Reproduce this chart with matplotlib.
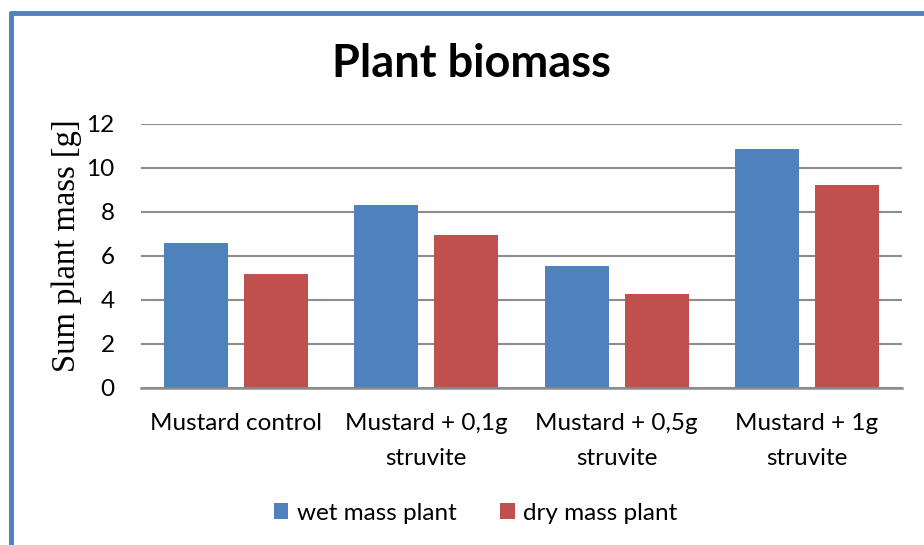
import matplotlib
matplotlib.use("Agg")
import matplotlib.pyplot as plt
from matplotlib.lines import Line2D
import numpy as np

categories = ["Mustard control", "Mustard + 0,1g\nstruvite", "Mustard + 0,5g\nstruvite", "Mustard + 1g\nstruvite"]
wet_mass = [6.58, 8.30, 5.55, 10.86]
dry_mass = [5.18, 6.95, 4.26, 9.22]
series_names = ["wet mass plant", "dry mass plant"]
yticks = [0, 2, 4, 6, 8, 10, 12]

W, H = 924, 545
fig = plt.figure(figsize=(W / 100, H / 100), dpi=100)
fig.patch.set_facecolor("white")

sans = ["Lato", "DejaVu Sans"]
blue = "#4F81BD"
red = "#C0504D"
grid_c = "#8C8C8C"

ax = fig.add_axes([141 / W, 1 - 388 / H, (902 - 141) / W, (388 - 124) / H])
x = np.arange(len(categories))
bw = 0.336
off = 0.21
ax.bar(x - off, wet_mass, bw, color=blue, label=series_names[0], zorder=3)
ax.bar(x + off, dry_mass, bw, color=red, label=series_names[1], zorder=3)

ax.set_xlim(-0.5, len(categories) - 0.5)
ax.set_ylim(0, 12)
ax.set_yticks(yticks)
ax.set_yticklabels([str(t) for t in yticks], fontfamily=sans, fontsize=17.5)
ax.set_xticks(x)
ax.set_xticklabels(categories, fontfamily=sans, fontsize=17.5, linespacing=1.8)
ax.tick_params(axis="x", length=0, pad=18)
ax.tick_params(axis="y", length=0, pad=19)
ax.yaxis.grid(True, color=grid_c, linewidth=1.5, zorder=0)
ax.set_axisbelow(True)
for s in ["top", "right", "left"]:
    ax.spines[s].set_visible(False)
ax.spines["bottom"].set_color(grid_c)
ax.spines["bottom"].set_linewidth(1.8)
ax.spines["bottom"].set_zorder(4)

ax.set_ylabel("Sum plant mass [g]", fontfamily=["Liberation Serif", "DejaVu Serif"], fontsize=23.5)
ax.yaxis.set_label_coords((82 - 141) / (902 - 141), (388 - 246) / (388 - 124))

fig.text(471 / W, 1 - 64 / H, "Plant biomass", ha="center", va="center",
         fontfamily=sans, fontsize=32.5, fontweight="bold")

leg = fig.legend(loc="center", bbox_to_anchor=(475.5 / W, 1 - 513 / H), ncol=2, frameon=False,
                 prop={"family": sans, "size": 17.5}, handlelength=0.6, handleheight=0.6,
                 handletextpad=0.35, columnspacing=1.8)

# frame lines (chart border, left and top)
fig.add_artist(Line2D([11 / W, 11 / W], [0, 1 - 11 / H], color=blue, linewidth=3.5,
                      transform=fig.transFigure, solid_capstyle="butt"))
fig.add_artist(Line2D([9.5 / W, 1], [1 - 13 / H, 1 - 13 / H], color=blue, linewidth=3.5,
                      transform=fig.transFigure, solid_capstyle="butt"))

fig.savefig("out.png", dpi=100, facecolor="white")
